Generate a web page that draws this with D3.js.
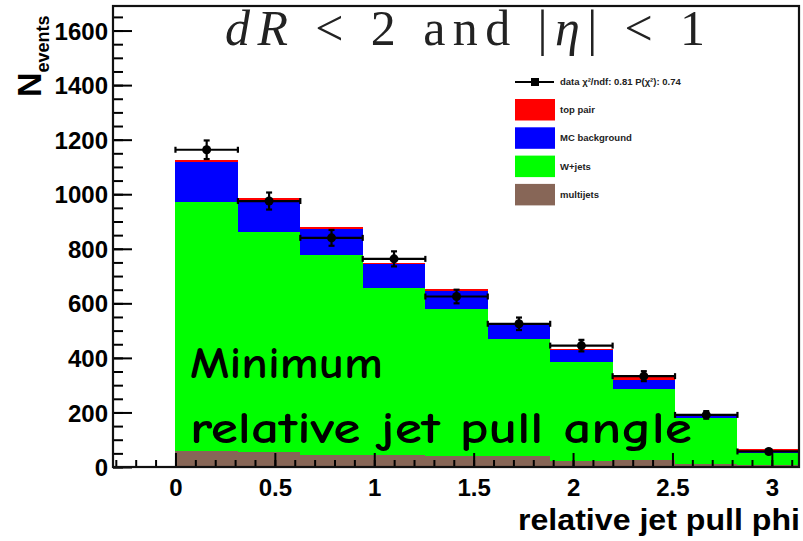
<!DOCTYPE html>
<html><head><meta charset="utf-8">
<script src="https://cdn.jsdelivr.net/npm/d3@7"></script>
<style>body{margin:0;background:#fff}svg{display:block}</style>
</head><body>
<svg id="c" width="803" height="541"></svg>
<script>
// ---- data ----
const binEdges = [0, 0.314, 0.628, 0.942, 1.257, 1.571, 1.885, 2.199, 2.513, 2.827, 3.142];
const multijets = [60, 55, 45, 44, 40, 40, 23, 25, 11, 7];
const wjets     = [910, 808, 733, 613, 539, 429, 361, 260, 170, 43];
const mcbg      = [147, 114, 94, 87, 67, 50, 45, 33, 10, 5];
const toppair   = [8, 9, 8, 4, 7, 3, 3, 12, 2, 12];
const dataVals  = [1163, 975, 840, 763, 625, 525, 445, 333, 191, 57];
const xTicks = [0, 0.5, 1, 1.5, 2, 2.5, 3];
const xTickLabels = ["0", "0.5", "1", "1.5", "2", "2.5", "3"];
const yTicks = [0, 200, 400, 600, 800, 1000, 1200, 1400, 1600];
const seriesKeys = ["multijets", "wjets", "mcbg", "toppair"];
const seriesColors = {multijets: "#876657", wjets: "#00ff00", mcbg: "#0000ff", toppair: "#ff0000"};
const legendEntries = [
  {label: "top pair", key: "toppair"},
  {label: "MC background", key: "mcbg"},
  {label: "W+jets", key: "wjets"},
  {label: "multijets", key: "multijets"}
];
const legendDataLabel = "data \u03C7\u00B2/ndf: 0.81 P(\u03C7\u00B2): 0.74";

const svg = d3.select("#c");
const L = 113, R = 800, T = 6, B = 467;
const x = d3.scaleLinear().domain([-0.3142, 3.1416]).range([L, R]);
const y = d3.scaleLinear().domain([0, 1690]).range([B, T]);
const font = "'Liberation Sans', Arial, Helvetica, sans-serif";

const rows = binEdges.slice(0, -1).map((lo, i) => ({
  lo, hi: binEdges[i + 1],
  multijets: multijets[i], wjets: wjets[i], mcbg: mcbg[i], toppair: toppair[i], data: dataVals[i]
}));
const stacked = d3.stack().keys(seriesKeys)(rows);

const plot = svg.append("g");
stacked.forEach(s => {
  plot.append("g").selectAll("rect").data(s).join("rect")
    .attr("x", d => x(d.data.lo))
    .attr("width", d => Math.min(x(d.data.hi), R) - x(d.data.lo))
    .attr("y", d => y(d[1]))
    .attr("height", d => y(d[0]) - y(d[1]))
    .attr("fill", seriesColors[s.key])
    .attr("shape-rendering", "crispEdges");
});

// overlay annotation text
const ann = svg.append("g").attr("font-family", "'Comic Sans MS','Comic Neue','DejaVu Sans',sans-serif")
  .attr("font-weight", "bold").attr("fill", "#000");
ann.append("text").attr("x", 190).attr("y", 378).attr("font-size", 44)
  .attr("textLength", 193).attr("lengthAdjust", "spacingAndGlyphs").text("Minimum");
ann.append("text").attr("x", 190).attr("y", 443).attr("font-size", 44)
  .attr("textLength", 502).attr("lengthAdjust", "spacingAndGlyphs").text("relative jet pull angle");

// data points with error bars
const dg = svg.append("g").attr("stroke", "#000").attr("stroke-width", 2.2);
rows.forEach(d => {
  const cx = x((d.lo + d.hi) / 2), cy = y(d.data);
  const x0 = x(d.lo), x1 = Math.min(x(d.hi), R);
  const err = Math.sqrt(d.data);
  dg.append("line").attr("x1", x0).attr("x2", x1).attr("y1", cy).attr("y2", cy);
  dg.append("line").attr("x1", x0).attr("x2", x0).attr("y1", cy - 3).attr("y2", cy + 3);
  if (x1 < R) dg.append("line").attr("x1", x1).attr("x2", x1).attr("y1", cy - 3).attr("y2", cy + 3);
  dg.append("line").attr("x1", cx).attr("x2", cx).attr("y1", y(d.data + err)).attr("y2", y(d.data - err));
  dg.append("line").attr("x1", cx - 3).attr("x2", cx + 3).attr("y1", y(d.data + err)).attr("y2", y(d.data + err));
  dg.append("line").attr("x1", cx - 3).attr("x2", cx + 3).attr("y1", y(d.data - err)).attr("y2", y(d.data - err));
  dg.append("circle").attr("cx", cx).attr("cy", cy).attr("r", 4.5).attr("fill", "#000").attr("stroke", "none");
});

// axes
const yAxis = d3.axisLeft(y).tickValues(yTicks).tickSize(-19).tickPadding(5).tickFormat(d3.format("d"));
const yMinor = d3.axisLeft(y).tickValues(d3.range(0, 1690, 50)).tickSize(-10).tickFormat("");
const xAxis = d3.axisBottom(x).tickValues(xTicks).tickSize(-14).tickPadding(12).tickFormat((d, i) => xTickLabels[i]);
const xMinor = d3.axisBottom(x).tickValues(d3.range(-0.3, 3.15, 0.1).map(v => +v.toFixed(2))).tickSize(-7).tickFormat("");

function styleAxis(g) {
  g.select(".domain").remove();
  g.selectAll(".tick line").attr("stroke", "#000").attr("stroke-width", 2);
  g.selectAll(".tick text").attr("font-family", font).attr("font-weight", "bold")
    .attr("font-size", 24).attr("fill", "#000");
}
svg.append("g").attr("transform", `translate(${L},0)`).call(yMinor).call(styleAxis);
svg.append("g").attr("transform", `translate(${L},0)`).call(yAxis).call(styleAxis)
  .selectAll(".tick text").attr("dy", "0.36em");
svg.append("g").attr("transform", `translate(0,${B})`).call(xMinor).call(styleAxis);
svg.append("g").attr("transform", `translate(0,${B})`).call(xAxis).call(styleAxis);

// frame
svg.append("rect").attr("x", L).attr("y", T).attr("width", R - L - 1).attr("height", B - T)
  .attr("fill", "none").attr("stroke", "#111").attr("stroke-width", 2.2);

// axis titles
svg.append("text").attr("x", 800).attr("y", 530).attr("text-anchor", "end")
  .attr("font-family", font).attr("font-weight", "bold").attr("font-size", 30)
  .attr("textLength", 282).attr("lengthAdjust", "spacingAndGlyphs").text("relative jet pull phi");
const yt = svg.append("text").attr("transform", "translate(41,97) rotate(-90)")
  .attr("font-family", font).attr("font-weight", "bold");
yt.append("tspan").attr("font-size", 34).text("N");
yt.append("tspan").attr("font-size", 18).attr("dy", 8).text("events");

// title
const title = svg.append("text").attr("x", 225).attr("y", 45)
  .attr("font-family", "'Liberation Serif','DejaVu Serif',serif").attr("font-size", 50)
  .attr("textLength", 480).attr("lengthAdjust", "spacing").attr("fill", "#222");
title.append("tspan").attr("font-style", "italic").text("dR");
title.append("tspan").text(" < 2 and |");
title.append("tspan").attr("font-style", "italic").text("\u03B7");
title.append("tspan").text("| < 1");

// legend
const lg = svg.append("g").attr("font-family", font).attr("font-weight", "bold").attr("font-size", 9.5).attr("fill", "#222");
lg.append("line").attr("x1", 515).attr("x2", 554).attr("y1", 82).attr("y2", 82).attr("stroke", "#000").attr("stroke-width", 2);
lg.append("rect").attr("x", 531).attr("y", 78).attr("width", 8).attr("height", 8).attr("fill", "#000");
lg.append("text").attr("x", 560).attr("y", 85).text(legendDataLabel);
legendEntries.forEach((e, i) => {
  const yy = 99 + i * 28.3;
  lg.append("rect").attr("x", 515).attr("y", yy).attr("width", 40).attr("height", 21.5)
    .attr("fill", seriesColors[e.key]);
  lg.append("text").attr("x", 560).attr("y", yy + 14).text(e.label);
});
</script>
</body></html>
